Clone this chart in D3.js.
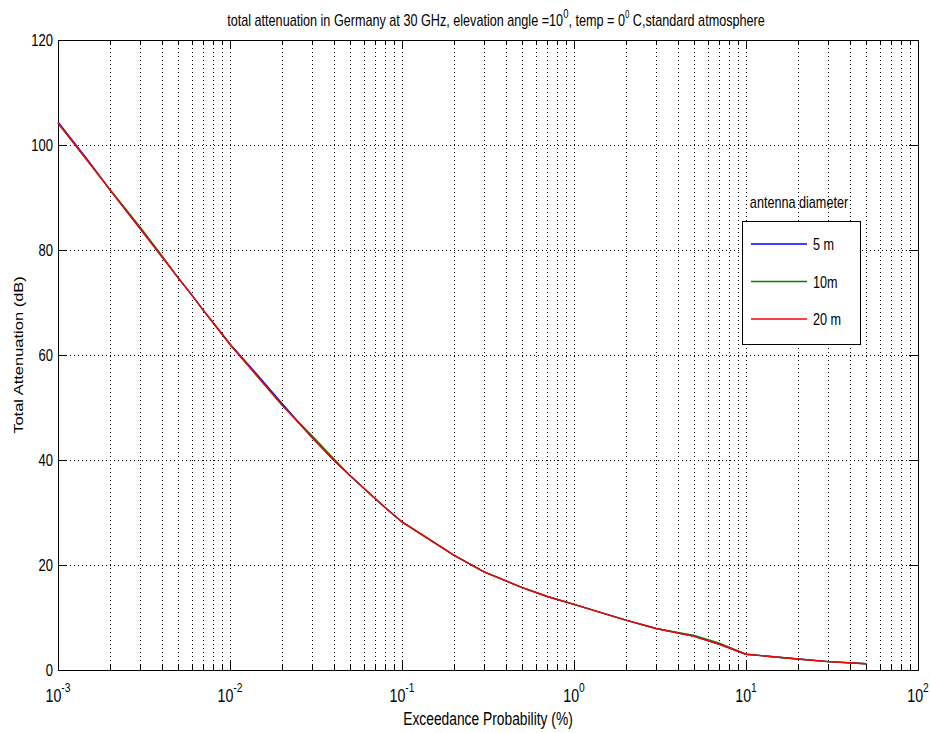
<!DOCTYPE html>
<html lang="en">
<head>
<meta charset="UTF-8">
<title>Total attenuation</title>
<script src="https://cdnjs.cloudflare.com/ajax/libs/d3/7.8.5/d3.min.js"></script>
<style>
  body { margin: 0; background: #fff; }
  text { font-family: "Liberation Sans", Arial, sans-serif; fill: #000; }
</style>
</head>
<body>
<div id="chart"></div>
<script>
// exceedance probability (%)
var probs = [0.001, 0.0015, 0.002, 0.003, 0.004, 0.005, 0.006, 0.007, 0.008, 0.01, 0.015, 0.02,
             0.03, 0.04, 0.05, 0.06, 0.07, 0.08, 0.1, 0.2, 0.3, 0.5, 0.7, 1, 2, 3, 5, 7, 10, 20, 30, 50];
// total attenuation (dB) per antenna diameter
var att5m  = [104.4, 97.0, 91.5, 84.1, 78.8, 74.7, 71.4, 68.5, 66.1, 62.1, 55.6, 50.8,
              44.3, 40.0, 37.0, 34.6, 32.6, 30.9, 28.2, 21.9, 18.7, 15.7, 14.0, 12.5, 9.5, 7.9, 6.4, 4.9, 3.0, 2.1, 1.6, 1.2];
var att10m = [104.2, 96.8, 91.6, 84.4, 79.0, 74.7, 71.4, 68.5, 66.1, 62.0, 55.3, 50.5,
              44.6, 40.3, 37.0, 34.6, 32.6, 30.9, 28.2, 21.9, 18.7, 15.7, 14.0, 12.5, 9.5, 7.9, 6.6, 5.1, 3.0, 2.1, 1.6, 1.2];
var att20m = [104.2, 96.8, 91.5, 84.1, 78.8, 74.7, 71.4, 68.5, 66.1, 62.0, 55.3, 50.5,
              44.3, 40.0, 37.0, 34.6, 32.6, 30.9, 28.2, 21.9, 18.7, 15.7, 14.0, 12.5, 9.5, 7.9, 6.4, 4.9, 3.0, 2.1, 1.6, 1.2];
var seriesNames = ["5 m", "10m", "20 m"];
var seriesColors = ["#0000ff", "#008000", "#ff0000"];
var xDecades = [-3, -2, -1, 0, 1, 2];
var yTicks = [0, 20, 40, 60, 80, 100, 120];

var width = 930, height = 733;
var pLeft = 58, pRight = 918, pTop = 40, pBottom = 670;
var squeeze = 0.79; // the reference text looks horizontally condensed

var svg = d3.select("#chart").append("svg")
  .attr("width", width)
  .attr("height", height);

var x = d3.scaleLog().domain([1e-3, 1e2]).range([pLeft, pRight]);
var y = d3.scaleLinear().domain([0, 120]).range([pBottom, pTop]);

function label(px, py, size, anchor) {
  return svg.append("text")
    .attr("transform", "translate(" + px + "," + py + ") scale(" + squeeze + ",1)")
    .attr("text-anchor", anchor)
    .attr("font-size", size);
}

// minor + major x positions
var xMinor = [];
for (var e = -3; e < 2; e++) {
  for (var m = 2; m <= 9; m++) xMinor.push(m * Math.pow(10, e));
}
var xMajor = xDecades.map(function(d) { return Math.pow(10, d); });

var grid = svg.append("g").attr("stroke", "#000").attr("stroke-width", 1)
  .attr("stroke-dasharray", "1,3").attr("shape-rendering", "crispEdges");

grid.selectAll("line.vx")
  .data(xMinor.concat(xMajor.slice(1, -1)))
  .enter().append("line")
  .attr("x1", function(d) { return Math.round(x(d)) + 0.5; })
  .attr("x2", function(d) { return Math.round(x(d)) + 0.5; })
  .attr("y1", pTop).attr("y2", pBottom);

grid.selectAll("line.hy")
  .data(yTicks.slice(1, -1))
  .enter().append("line")
  .attr("y1", function(d) { return Math.round(y(d)) + 0.5; })
  .attr("y2", function(d) { return Math.round(y(d)) + 0.5; })
  .attr("x1", pLeft).attr("x2", pRight);

// tick marks on all four sides (inside)
var ticks = svg.append("g").attr("stroke", "#000").attr("shape-rendering", "crispEdges");
xMinor.concat(xMajor).forEach(function(d) {
  var len = xMajor.indexOf(d) >= 0 ? 9 : 5;
  var px = Math.round(x(d)) + 0.5;
  ticks.append("line").attr("x1", px).attr("x2", px).attr("y1", pBottom).attr("y2", pBottom - len);
  ticks.append("line").attr("x1", px).attr("x2", px).attr("y1", pTop).attr("y2", pTop + len);
});
yTicks.forEach(function(d) {
  var py = Math.round(y(d)) + 0.5;
  ticks.append("line").attr("x1", pLeft).attr("x2", pLeft + 9).attr("y1", py).attr("y2", py);
  ticks.append("line").attr("x1", pRight).attr("x2", pRight - 9).attr("y1", py).attr("y2", py);
});

// axes box
svg.append("rect")
  .attr("x", pLeft + 0.5).attr("y", pTop + 0.5)
  .attr("width", pRight - pLeft).attr("height", pBottom - pTop)
  .attr("fill", "none").attr("stroke", "#000").attr("stroke-width", 1)
  .attr("shape-rendering", "crispEdges");

// y tick labels
yTicks.forEach(function(d) {
  label(pLeft - 5, y(d) + 6, 16.5, "end").text(d);
});

// x tick labels 10^n
xDecades.forEach(function(d) {
  var t = label(x(Math.pow(10, d)), 702, 18, "middle");
  t.append("tspan").text("10");
  t.append("tspan").attr("dy", -10).attr("font-size", 13).text(d);
});

// series lines
var line = d3.line()
  .x(function(d) { return x(d[0]); })
  .y(function(d) { return y(d[1]); });

[att5m, att10m, att20m].forEach(function(vals, i) {
  svg.append("path")
    .datum(probs.map(function(p, j) { return [p, vals[j]]; }))
    .attr("d", line)
    .attr("fill", "none")
    .attr("stroke", seriesColors[i])
    .attr("stroke-width", 1.4);
});

// title
var title = label(496, 26, 16, "middle");
title.append("tspan").text("total attenuation in Germany at 30 GHz, elevation angle =10");
title.append("tspan").attr("dy", -8).attr("font-size", 12).text("0");
title.append("tspan").attr("dy", 8).text(", temp = 0");
title.append("tspan").attr("dy", -8).attr("font-size", 10).text("0");
title.append("tspan").attr("dy", 8).text(" C,standard atmosphere");

// axis labels
label((pLeft + pRight) / 2, 725, 17.5, "middle").text("Exceedance Probability (%)");

svg.append("text")
  .attr("transform", "translate(23," + ((pTop + pBottom) / 2) + ") rotate(-90) scale(1," + squeeze + ")")
  .attr("text-anchor", "middle")
  .attr("font-size", 16.5)
  .text("Total Attenuation (dB)");

// legend
label(799, 208, 16, "middle").text("antenna diameter");

svg.append("rect")
  .attr("x", 742.5).attr("y", 221.5)
  .attr("width", 118).attr("height", 123)
  .attr("fill", "#fff").attr("stroke", "#000")
  .attr("shape-rendering", "crispEdges");

var legendY = d3.scalePoint().domain(seriesNames).range([244, 319]);
seriesNames.forEach(function(name, i) {
  svg.append("line")
    .attr("x1", 751).attr("x2", 807)
    .attr("y1", legendY(name)).attr("y2", legendY(name))
    .attr("stroke", seriesColors[i]).attr("stroke-width", 1.4);
  label(813, legendY(name) + 6, 16, "start").text(name);
});
</script>
</body>
</html>
